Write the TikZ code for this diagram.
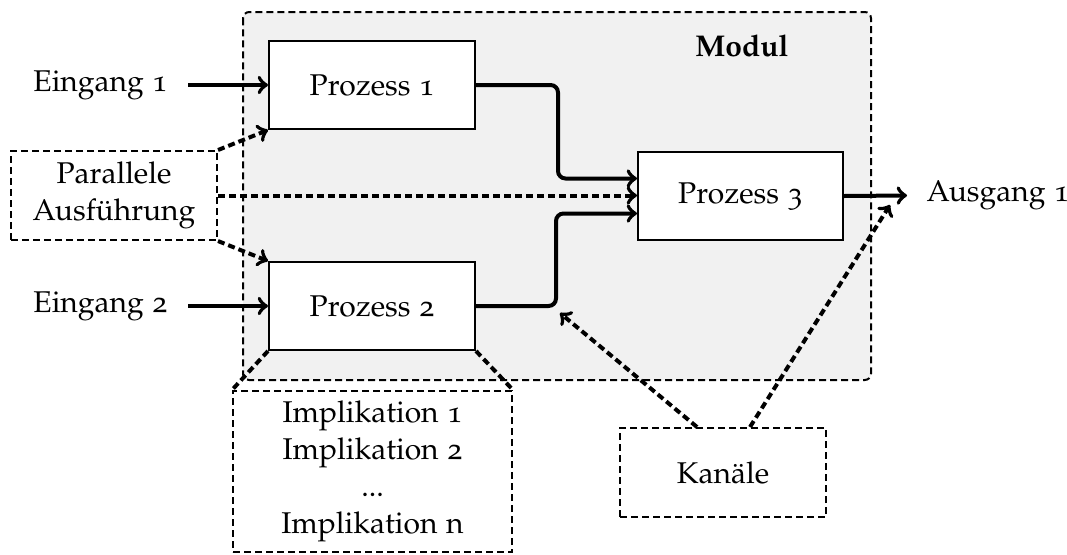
\documentclass[tikz,border=0pt]{standalone}
\usepackage[T1]{fontenc}
\usepackage[osf]{mathpazo}
\usetikzlibrary{calc}

\definecolor{modulgray}{gray}{0.945}

\tikzset{
  txt/.style={font=\fontsize{12pt}{14.8pt}\selectfont, inner sep=0pt},
  procbox/.style={txt, draw, line width=0.8pt, fill=white,
    minimum width=82.4pt, minimum height=35.2pt},
  notebox/.style={txt, draw, line width=0.8pt, dash pattern=on 2.8pt off 1.6pt,
    minimum width=82.4pt, minimum height=35.6pt, align=center},
  flow/.style={->, line width=1.6pt},
  dflow/.style={->, line width=1.6pt, dash pattern=on 2.8pt off 1.6pt},
  dlink/.style={line width=1.6pt, dash pattern=on 2.8pt off 1.6pt},
}

\begin{document}
\begin{tikzpicture}[x=0.4pt, y=-0.4pt]
\useasboundingbox (0,0) rectangle (1067,554);

% module frame
\draw[line width=0.8pt, dash pattern=on 2.8pt off 1.6pt, fill=modulgray,
      rounded corners=2.5pt] (243,12) rectangle (871,380);
\node[txt, font=\fontsize{12pt}{14.8pt}\selectfont\bfseries] (modul) at (742,46) {Modul};

% processes
\node[procbox] (p1) at (372,85) {Prozess 1};
\node[procbox] (p2) at (372,306) {Prozess 2};
\node[procbox, minimum width=82pt] (p3) at (740.5,196) {Prozess 3};

% side notes
\node[notebox] (par) at (114,195.5) {Parallele\\Ausf\"uhrung};
\node[notebox, minimum width=111.6pt, minimum height=64.4pt] (imp) at (372.5,471.5)
  {Implikation 1\\Implikation 2\\...\\Implikation n};
\node[notebox] (kan) at (723,472.5) {Kan\"ale};

% inputs and output
\node[txt, anchor=east, inner xsep=8pt] (e1) at (188,85) {Eingang 1};
\node[txt, anchor=east, inner xsep=8pt] (e2) at (188,306) {Eingang 2};
\node[txt, anchor=west, inner xsep=7.6pt] (a1) at (907,195.5) {Ausgang 1};

\coordinate (c1) at (560,313);
\coordinate (c2) at (890,205);

% data flow
\draw[flow] (e1.east) -- (p1.west);
\draw[flow] (e2.east) -- (p2.west);
\draw[flow, rounded corners=3pt] (p1.east) -- ++(82,0) |- ([yshift=7pt]p3.west);
\draw[flow, rounded corners=3pt] (p2.east) -- ++(80,0) |- ([yshift=-7pt]p3.west);
\draw[flow] (p3.east) -- (a1.west);

% parallel execution
\draw[dflow] (par.north east) -- (p1.south west);
\draw[dflow] (par.south east) -- (p2.north west);
\draw[dflow] (par.east) -- (par.east -| p3.west);

% implications
\draw[dlink] (p2.south west) -- (imp.north west);
\draw[dlink] (p2.south east) -- (imp.north east);

% channels
\draw[dflow] ([xshift=-10.4pt]kan.north) -- (c1);
\draw[dflow] ([xshift=10.8pt]kan.north) -- (c2);
\end{tikzpicture}
\end{document}
